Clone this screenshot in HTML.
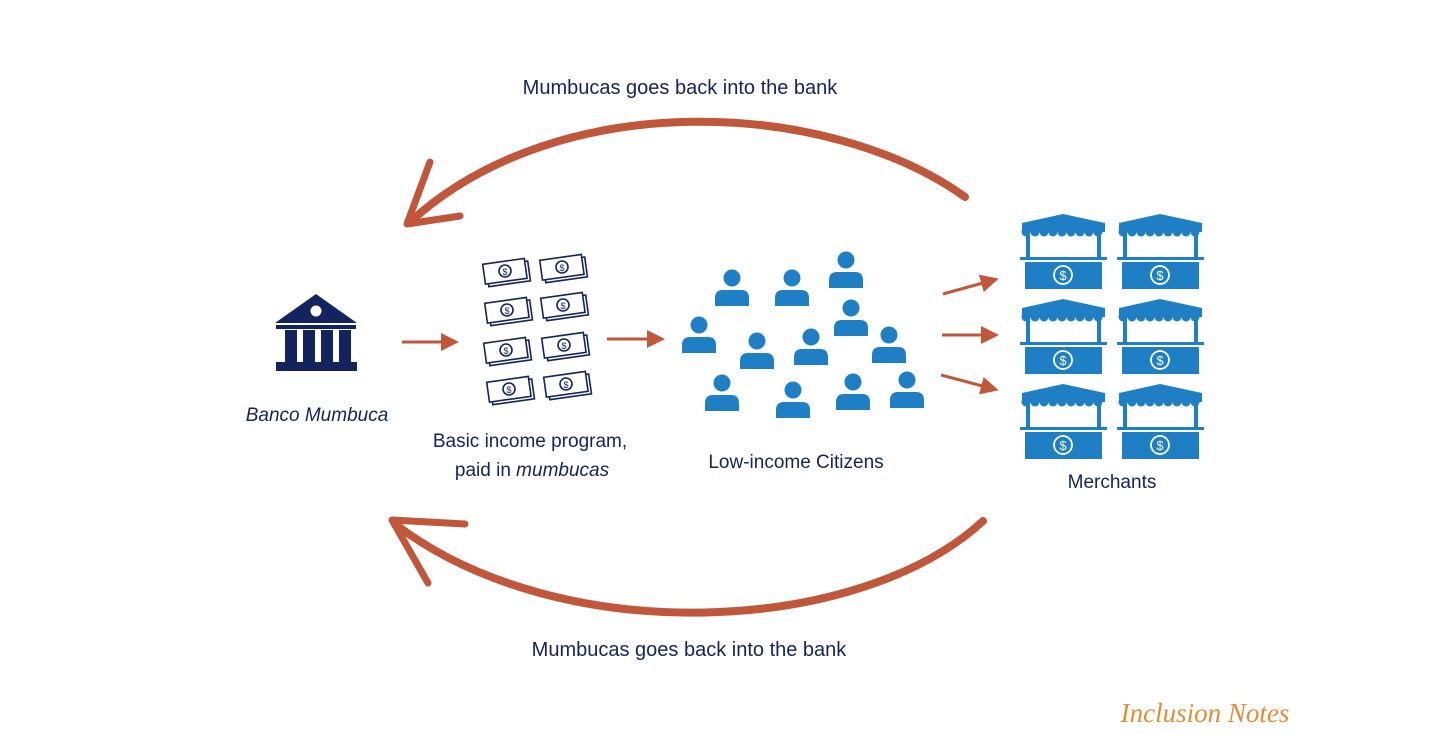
<!DOCTYPE html>
<html><head><meta charset="utf-8"><style>
html,body{margin:0;padding:0;background:#fff;}
svg{display:block;}
text{font-family:"Liberation Sans",sans-serif;fill:#13235e;}
</style></head><body>
<svg width="1456" height="735" viewBox="0 0 1456 735" xmlns="http://www.w3.org/2000/svg">
<defs>
<g id="stall">
  <path d="M2,10 L43,1 L85,10 L85,19 L2,19 Z" fill="#1f7fc4"/>
  <g fill="#1f7fc4">
    <circle cx="6" cy="19" r="4.5"/><circle cx="15" cy="19" r="4.5"/><circle cx="24" cy="19" r="4.5"/><circle cx="33" cy="19" r="4.5"/><circle cx="42" cy="19" r="4.5"/><circle cx="51" cy="19" r="4.5"/><circle cx="60" cy="19" r="4.5"/><circle cx="69" cy="19" r="4.5"/><circle cx="78" cy="19" r="4.5"/>
    <rect x="6" y="19" width="4" height="28"/><rect x="77" y="19" width="4" height="28"/>
    <rect x="0" y="44" width="87" height="3"/>
    <rect x="5" y="49" width="77" height="27"/>
  </g>
  <circle cx="43" cy="62" r="9" fill="none" stroke="#fff" stroke-width="1.8"/>
  <text x="43" y="67" text-anchor="middle" font-size="13" style="fill:#fff">$</text>
</g>
<g id="bill" fill="#fff" stroke="#13235e" stroke-width="1.6">
  <rect x="-20" y="-8" width="42" height="20" transform="rotate(-8)"/>
  <rect x="-23" y="-11" width="42" height="20" transform="rotate(-8)"/>
  <circle cx="-2" cy="-1" r="6"/>
  <text x="-2" y="3" text-anchor="middle" font-size="9" stroke="none" style="fill:#13235e">$</text>
</g>
<g id="person" fill="#1f7fc4">
  <circle cx="0" cy="0" r="8.5"/>
  <path d="M-17,28 L-17,20 Q-17,12 -9,12 L9,12 Q17,12 17,20 L17,28 Z"/>
</g>
<marker id="ah" markerWidth="6" markerHeight="6" refX="3" refY="3" orient="auto" markerUnits="strokeWidth">
  <path d="M0,0 L6,3 L0,6 Z" fill="#c0573a"/>
</marker>
</defs>

<text x="680" y="94" text-anchor="middle" font-size="20">Mumbucas goes back into the bank</text>
<text x="689" y="656" text-anchor="middle" font-size="20">Mumbucas goes back into the bank</text>

<g stroke="#c0573a" fill="none" stroke-linecap="round">
  <path d="M965,197 C830,100 560,85 410,222" stroke-width="8"/>
  <path d="M430,162 L407,224 L460,216" stroke-width="7" stroke-linejoin="round"/>
  <path d="M983,521 C860,635 560,650 395,524" stroke-width="8"/>
  <path d="M465,524 L392,520 L428,583" stroke-width="7" stroke-linejoin="round"/>
</g>

<g fill="#13235e">
  <path d="M275,323 L316,294 L357,323 Z"/>
  <rect x="276" y="325" width="80" height="4"/>
  <rect x="285" y="330" width="12" height="32"/><rect x="303" y="330" width="12" height="32"/><rect x="321" y="330" width="12" height="32"/><rect x="339" y="330" width="12" height="32"/>
  <rect x="276" y="362" width="81" height="9"/>
</g>
<circle cx="316" cy="311" r="5.5" fill="#fff"/>
<text x="317" y="421" text-anchor="middle" font-size="19" font-style="italic">Banco Mumbuca</text>

<g stroke="#c0573a" stroke-width="3" fill="none" marker-end="url(#ah)">
  <line x1="402" y1="342" x2="450" y2="342"/>
  <line x1="607" y1="339" x2="656" y2="339"/>
  <line x1="943" y1="294" x2="990" y2="281"/>
  <line x1="942" y1="335" x2="990" y2="335"/>
  <line x1="941" y1="375" x2="990" y2="388"/>
</g>

<use href="#bill" x="507" y="272"/><use href="#bill" x="564" y="268"/>
<use href="#bill" x="509" y="311"/><use href="#bill" x="565" y="306"/>
<use href="#bill" x="508" y="351"/><use href="#bill" x="566" y="346"/>
<use href="#bill" x="511" y="390"/><use href="#bill" x="568" y="385"/>
<text x="530" y="447" text-anchor="middle" font-size="19">Basic income program,</text>
<text x="532" y="476" text-anchor="middle" font-size="19">paid in <tspan font-style="italic">mumbucas</tspan></text>

<use href="#person" x="732" y="278"/><use href="#person" x="792" y="278"/><use href="#person" x="846" y="260"/>
<use href="#person" x="699" y="325"/><use href="#person" x="757" y="341"/><use href="#person" x="811" y="337"/>
<use href="#person" x="851" y="308"/><use href="#person" x="889" y="335"/><use href="#person" x="722" y="383"/>
<use href="#person" x="793" y="390"/><use href="#person" x="853" y="382"/><use href="#person" x="907" y="380"/>
<text x="796" y="468" text-anchor="middle" font-size="19">Low-income Citizens</text>

<use href="#stall" x="1020" y="213"/><use href="#stall" x="1117" y="213"/>
<use href="#stall" x="1020" y="298"/><use href="#stall" x="1117" y="298"/>
<use href="#stall" x="1020" y="383"/><use href="#stall" x="1117" y="383"/>
<text x="1112" y="488" text-anchor="middle" font-size="19">Merchants</text>

<text x="1205" y="722" text-anchor="middle" font-size="27" font-style="italic" style="fill:#e58a35;font-family:'Liberation Serif',serif">Inclusion Notes</text>
</svg>
</body></html>
